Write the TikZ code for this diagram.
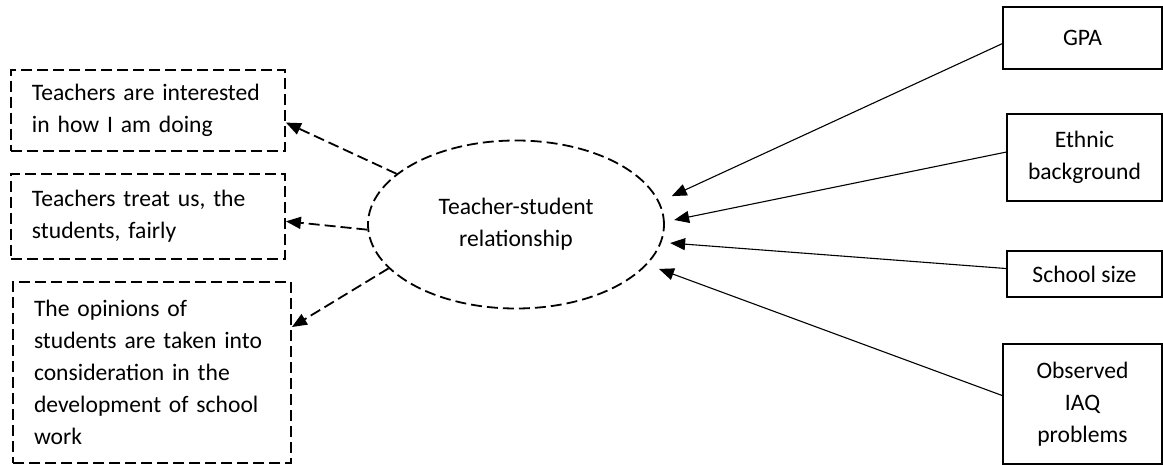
\documentclass[tikz,border=0pt]{standalone}
\usepackage{fontspec}
\setmainfont{Carlito}
\usetikzlibrary{
	arrows.meta,
	shapes.geometric
}
\tikzset{
	item box/.style={
		draw,
		line width=0.9pt,
		dash pattern=on 5.5pt off 2.5pt,
		align=left,
		inner xsep=10.5pt,
		inner ysep=0pt
	},
	cause box/.style={
		draw,
		line width=0.65pt,
		align=center,
		inner sep=0pt
	},
	latent/.style={
		ellipse,
		draw,
		line width=0.9pt,
		dash pattern=on 5.5pt off 2.5pt,
		align=center,
		inner sep=0pt,
		minimum width=148pt,
		minimum height=84pt
	},
	cause arrow/.style={
		line width=0.55pt,
		-{Triangle[length=7.5pt,width=6pt]}
	},
	effect arrow/.style={
		line width=0.9pt,
		dash pattern=on 5.5pt off 2.5pt,
		-{Triangle[length=7.5pt,width=6pt]}
	}
}

\begin{document}
\begin{tikzpicture}[x=0.5pt,y=-0.5pt,font=\fontsize{11.8}{16}\selectfont] %%%% TEACHER-STUDENT
	\useasboundingbox (0,0) rectangle (1163,465);
	\node[item box, text width=116pt, minimum height=40.5pt] (interest) at (148,110.5) {Teachers are interested\\in how I am doing};
	\node[item box, text width=116pt, minimum height=42.5pt] (fair) at (148,216.5) {Teachers treat us, the\\students, fairly};
	\node[item box, text width=118pt, minimum height=90.5pt] (opinion) at (152,372.5) {The opinions of\\students are taken into\\consideration in the\\development of school\\work};
	\node[latent] (rel) at (516,224.5) {Teacher-student\\relationship};
	\node[cause box, minimum width=79.5pt, minimum height=31pt] (gpa) at (1082.5,38) {GPA};
	\node[cause box, minimum width=77.5pt, minimum height=43.5pt] (ethnic) at (1084.5,157.5) {Ethnic\\background};
	\node[cause box, minimum width=77.5pt, minimum height=23pt] (size) at (1084.5,274) {School size};
	\node[cause box, minimum width=79.5pt, minimum height=60pt] (iaq) at (1082.5,404) {Observed\\IAQ\\problems};
	\draw[cause arrow, shorten >=6.75pt] (gpa.184) -- (rel.9);
	\draw[cause arrow, shorten >=4.75pt] (ethnic.176) -- (rel.1);
	\draw[cause arrow, shorten >=4.3pt] (size.176) -- (rel.-7);
	\draw[cause arrow, shorten >=6.25pt] (iaq.174) -- (rel.-17);
	\draw[effect arrow] (rel.157) -- (interest.-5.6);
	\draw[effect arrow] (rel.182) -- (fair.-2.3);
	\draw[effect arrow] (rel.199) -- (opinion.18);
\end{tikzpicture}
\end{document}
